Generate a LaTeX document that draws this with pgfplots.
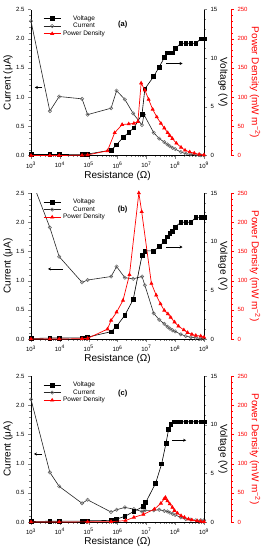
\documentclass[border=0pt]{standalone}
\usepackage{pgfplots}
\pgfplotsset{compat=1.18}
\usepackage{fontspec}
\setmainfont{Liberation Sans}
\usetikzlibrary{arrows.meta}

\tikzset{
 curplot/.style={black!85, line width=0.6pt, mark=o, mark size=1.7pt, mark options={draw=black!60, fill=white, line width=0.5pt}},
 volplot/.style={black, line width=0.6pt, mark=square*, mark size=1.9pt},
 powplot/.style={red, line width=0.7pt, mark=triangle*, mark size=1.7pt},
}
\pgfplotsset{width=173pt,height=146pt,scale only axis,xmin=1e3,xmax=1e9,
   tick align=outside, major tick length=3pt, minor tick length=1.6pt,
   ticklabel style={font=\fontsize{6}{7}\selectfont},
   label style={font=\fontsize{8}{9}\selectfont},
   /pgf/number format/assume math mode=true,
   xtick={1e3,1e4,1e5,1e6,1e7,1e8,1e9},
   minor xtick={2e3,3e3,4e3,5e3,6e3,7e3,8e3,9e3,2e4,3e4,4e4,5e4,6e4,7e4,8e4,9e4,2e5,3e5,4e5,5e5,6e5,7e5,8e5,9e5,2e6,3e6,4e6,5e6,6e6,7e6,8e6,9e6,2e7,3e7,4e7,5e7,6e7,7e7,8e7,9e7,2e8,3e8,4e8,5e8,6e8,7e8,8e8,9e8},
   xticklabels={10\textsuperscript{3},10\textsuperscript{4},10\textsuperscript{5},10\textsuperscript{6},10\textsuperscript{7},10\textsuperscript{8},10\textsuperscript{9}},
   legend style={draw=none, fill=none, at={(0.07,0.975)}, anchor=north west,
     font=\fontsize{6.5}{7}\selectfont, row sep=-2.5pt, inner sep=0pt},
}

\begin{document}
\begin{tikzpicture}
\path[use as bounding box] (0,0) rectangle (262pt,-550pt);

% ---------------- panel (a)
\begin{axis}[xmode=log, at={(31pt,-155.5pt)}, anchor=south west, clip=false,
   axis x line*=bottom, axis y line*=left, ymin=0, ymax=2.5,
   ytick={0,0.5,1,1.5,2,2.5}, minor y tick num=4,
   yticklabel style={/pgf/number format/fixed,/pgf/number format/fixed zerofill,/pgf/number format/precision=1},
   xlabel={Resistance (Ω)}, ylabel={Current (μA)},
   every axis x label/.style={at={([yshift=-20pt]rel axis cs:0.5,0)},anchor=center},
   every axis y label/.style={at={([xshift=-23pt]rel axis cs:0,0.5)},rotate=90,anchor=center}]
\addlegendimage{volplot}\addlegendentry{Voltage}
\addlegendimage{curplot}\addlegendentry{Current}
\addlegendimage{powplot}\addlegendentry{Power Density}
\addplot[curplot] coordinates {(1e3,2.30)(4.5e3,0.76)(9.5e3,1.01)(5.9e4,0.97)(9.2e4,0.70)(6.0e5,0.81)(9.3e5,1.11)(1.8e6,0.96)(3.5e6,0.72)(7.1e6,0.52)(8.3e6,0.70)(1.8e7,0.39)(2.8e7,0.29)(4.2e7,0.23)(5.4e7,0.19)(6.5e7,0.16)(8.1e7,0.13)(1e8,0.11)(1.57e8,0.06)(2.33e8,0.03)(3.5e8,0.02)(5.2e8,0.01)(7.7e8,0.005)(1e9,0.003)};
\node[font=\bfseries\fontsize{7.5}{8}\selectfont] at (rel axis cs:0.53,0.9) {(a)};
\draw[-{Stealth[length=3pt,width=3pt]}, line width=0.6pt] (rel axis cs:0.065,0.466) -- (rel axis cs:0.022,0.466);
\draw[-{Stealth[length=3pt,width=3pt]}, line width=0.6pt] (rel axis cs:0.782,0.63) -- (rel axis cs:0.876,0.63);
\end{axis}
\begin{axis}[xmode=log, at={(31pt,-155.5pt)}, anchor=south west, clip=false,
   axis x line=none, axis y line*=right, ymin=0, ymax=15, ytick={0,5,10,15}, minor y tick num=4,
   ylabel={Voltage (V)},
   every axis y label/.style={at={([xshift=19pt]rel axis cs:1,0.5)},rotate=-90,anchor=center}]
\addplot[volplot] coordinates {(1e3,0.1)(4.5e3,0.1)(9.5e3,0.1)(5.9e4,0.12)(9.2e4,0.15)(6.0e5,0.55)(9.3e5,1.1)(1.6e6,1.9)(2.45e6,2.35)(3.7e6,2.85)(7.1e6,4.25)(8.9e6,6.85)(1.78e7,8.1)(2.8e7,9.1)(4.2e7,10.05)(5.4e7,10.55)(6.5e7,10.55)(8.1e7,10.55)(1e8,11.0)(1.57e8,11.5)(2.33e8,11.5)(3.5e8,11.5)(5.2e8,11.5)(7.7e8,12.0)(1e9,12.0)};
\end{axis}
\begin{axis}[xmode=log, at={(31pt,-155.5pt)}, anchor=south west, clip=false,
   axis x line=none, axis y line*=right, ymin=0, ymax=250, ytick={0,50,100,150,200,250}, minor y tick num=4,
   y axis line style={red,xshift=27pt}, ytick style={red,xshift=27pt}, yticklabel style={red,xshift=27pt},
   ylabel={Power Density (mW m\textsuperscript{−2})},
   every axis y label/.style={at={([xshift=51pt]rel axis cs:1,0.5)},rotate=-90,anchor=center,red}]
\addplot[powplot] coordinates {(1e3,0)(4.5e3,0)(9.5e3,0)(5.9e4,0.5)(9.2e4,1)(4.5e5,8)(8e5,39)(1.45e6,53)(2.45e6,54)(3.7e6,55)(5.1e6,58)(6.6e6,124)(8.9e6,112)(1.2e7,96)(1.66e7,79)(2.3e7,66)(3.2e7,55)(4.2e7,47)(5.5e7,39)(6.5e7,34)(8e7,29)(1.1e8,21)(1.6e8,14)(2.2e8,9)(3.2e8,6)(4.6e8,4)(6.8e8,2)(1e9,1)};
\end{axis}

% ---------------- panel (b)
\begin{axis}[xmode=log, at={(31pt,-339pt)}, anchor=south west,
   axis x line*=bottom, axis y line*=left, ymin=0, ymax=2.5,
   ytick={0,0.5,1,1.5,2,2.5}, minor y tick num=4,
   yticklabel style={/pgf/number format/fixed,/pgf/number format/fixed zerofill,/pgf/number format/precision=1},
   xlabel={Resistance (Ω)}, ylabel={Current (μA)},
   every axis x label/.style={at={([yshift=-20pt]rel axis cs:0.5,0)},anchor=center},
   every axis y label/.style={at={([xshift=-23pt]rel axis cs:0,0.5)},rotate=90,anchor=center}]
\addlegendimage{volplot}\addlegendentry{Voltage}
\addlegendimage{curplot}\addlegendentry{Current}
\addlegendimage{powplot}\addlegendentry{Power Density}
\addplot[curplot] coordinates {(1e3,2.75)(4.5e3,1.91)(9.5e3,1.41)(5.9e4,0.97)(9.2e4,1.01)(6.0e5,1.07)(9.3e5,1.24)(1.8e6,1.05)(3.5e6,1.03)(7.1e6,1.07)(8.9e6,0.92)(1.8e7,0.44)(2.8e7,0.33)(4.2e7,0.26)(5.4e7,0.21)(6.5e7,0.18)(8.1e7,0.15)(1e8,0.13)(1.57e8,0.08)(2.33e8,0.05)(3.5e8,0.03)(5.2e8,0.02)(7.7e8,0.01)(1e9,0.005)};
\node[font=\bfseries\fontsize{7.5}{8}\selectfont] at (rel axis cs:0.53,0.89) {(b)};
\draw[-{Stealth[length=3pt,width=3pt]}, line width=0.6pt] (rel axis cs:0.184,0.48) -- (rel axis cs:0.098,0.48);
\draw[-{Stealth[length=3pt,width=3pt]}, line width=0.6pt] (rel axis cs:0.782,0.63) -- (rel axis cs:0.876,0.63);
\end{axis}
\begin{axis}[xmode=log, at={(31pt,-339pt)}, anchor=south west, clip=false,
   axis x line=none, axis y line*=right, ymin=0, ymax=15, ytick={0,5,10,15}, minor y tick num=4,
   ylabel={Voltage (V)},
   every axis y label/.style={at={([xshift=19pt]rel axis cs:1,0.5)},rotate=-90,anchor=center}]
\addplot[volplot] coordinates {(1e3,0.05)(4.5e3,0.1)(9.5e3,0.1)(5.9e4,0.12)(9.2e4,0.2)(6.0e5,0.75)(9.3e5,1.3)(1.8e6,2.45)(3.5e6,4.05)(7.1e6,8.6)(8.9e6,9.05)(1.8e7,9.05)(2.8e7,9.5)(4.2e7,10.0)(5.4e7,10.5)(6.5e7,10.85)(8.1e7,11.1)(1e8,11.5)(1.57e8,12.0)(2.33e8,12.0)(3.5e8,12.0)(5.2e8,12.5)(7.7e8,12.5)(1e9,12.5)};
\end{axis}
\begin{axis}[xmode=log, at={(31pt,-339pt)}, anchor=south west, clip=false,
   axis x line=none, axis y line*=right, ymin=0, ymax=250, ytick={0,50,100,150,200,250}, minor y tick num=4,
   y axis line style={red,xshift=27pt}, ytick style={red,xshift=27pt}, yticklabel style={red,xshift=27pt},
   ylabel={Power Density (mW m\textsuperscript{−2})},
   every axis y label/.style={at={([xshift=51pt]rel axis cs:1,0.5)},rotate=-90,anchor=center,red}]
\addplot[powplot] coordinates {(1e3,0)(4.5e3,0)(9.5e3,0)(5.9e4,0.5)(9.2e4,1)(4.5e5,17)(6.0e5,32)(9.3e5,46)(1.55e6,66)(2.6e6,110)(5.5e6,250)(6.9e6,218)(1.5e7,95)(2.2e7,75)(3.1e7,60)(4.2e7,49)(5.6e7,43)(7e7,37)(9.5e7,29)(1.3e8,22)(2e8,15.5)(2.7e8,11)(3.8e8,8)(5.2e8,6)(7.7e8,5)(1e9,3)};
\end{axis}

% ---------------- panel (c)
\begin{axis}[xmode=log, at={(31pt,-522pt)}, anchor=south west, clip=false,
   axis x line*=bottom, axis y line*=left, ymin=0, ymax=2.5,
   ytick={0,0.5,1,1.5,2,2.5}, minor y tick num=4,
   yticklabel style={/pgf/number format/fixed,/pgf/number format/fixed zerofill,/pgf/number format/precision=1},
   xlabel={Resistance (Ω)}, ylabel={Current (μA)},
   every axis x label/.style={at={([yshift=-20pt]rel axis cs:0.5,0)},anchor=center},
   every axis y label/.style={at={([xshift=-23pt]rel axis cs:0,0.5)},rotate=90,anchor=center}]
\addlegendimage{volplot}\addlegendentry{Voltage}
\addlegendimage{curplot}\addlegendentry{Current}
\addlegendimage{powplot}\addlegendentry{Power Density}
\addplot[curplot] coordinates {(1e3,2.10)(4.5e3,0.85)(9.5e3,0.61)(5.9e4,0.32)(9.2e4,0.38)(6.0e5,0.17)(9.3e5,0.21)(1.8e6,0.25)(3.7e6,0.22)(7.1e6,0.18)(8.9e6,0.20)(1.8e7,0.20)(2.8e7,0.21)(4.2e7,0.19)(5.4e7,0.18)(6.5e7,0.16)(8.1e7,0.14)(1e8,0.12)(1.57e8,0.08)(2.33e8,0.05)(3.5e8,0.04)(5.2e8,0.03)(7.7e8,0.03)(1e9,0.03)};
\node[font=\bfseries\fontsize{7.5}{8}\selectfont] at (rel axis cs:0.53,0.877) {(c)};
\draw[-{Stealth[length=3pt,width=3pt]}, line width=0.6pt] (rel axis cs:0.065,0.466) -- (rel axis cs:0.017,0.466);
\draw[-{Stealth[length=3pt,width=3pt]}, line width=0.6pt] (rel axis cs:0.816,0.56) -- (rel axis cs:0.897,0.56);
\end{axis}
\begin{axis}[xmode=log, at={(31pt,-522pt)}, anchor=south west, clip=false,
   axis x line=none, axis y line*=right, ymin=0, ymax=15, ytick={0,5,10,15}, minor y tick num=4,
   ylabel={Voltage (V)},
   every axis y label/.style={at={([xshift=19pt]rel axis cs:1,0.5)},rotate=-90,anchor=center}]
\addplot[volplot] coordinates {(1e3,0.05)(4.5e3,0.08)(9.5e3,0.08)(5.9e4,0.1)(9.2e4,0.12)(6.0e5,0.17)(9.3e5,0.3)(1.8e6,0.58)(3.7e6,1.09)(7.9e6,1.6)(9.5e6,2.0)(2.1e7,3.99)(3.4e7,5.97)(4.8e7,8.08)(5.9e7,9.5)(7e7,10.0)(8.9e7,10.3)(1.2e8,10.3)(1.57e8,10.3)(2.33e8,10.3)(3.5e8,10.3)(5.2e8,10.3)(7.7e8,10.3)(1e9,10.3)};
\end{axis}
\begin{axis}[xmode=log, at={(31pt,-522pt)}, anchor=south west, clip=false,
   axis x line=none, axis y line*=right, ymin=0, ymax=250, ytick={0,50,100,150,200,250}, minor y tick num=4,
   y axis line style={red,xshift=27pt}, ytick style={red,xshift=27pt}, yticklabel style={red,xshift=27pt},
   ylabel={Power Density (mW m\textsuperscript{−2})},
   every axis y label/.style={at={([xshift=51pt]rel axis cs:1,0.5)},rotate=-90,anchor=center,red}]
\addplot[powplot] coordinates {(1e3,0)(9.5e3,0)(9.2e4,0.3)(6e5,0.5)(1.9e6,2.5)(3.7e6,8)(7.9e6,13)(1.9e7,22)(3.2e7,32)(4.2e7,40)(4.6e7,42)(5.4e7,36)(6.5e7,31)(8e7,25)(9.5e7,19.6)(1.2e8,15)(1.6e8,10.8)(2.1e8,8)(2.9e8,5)(3.8e8,3.5)(5.8e8,2)(7.7e8,1)(1e9,0.5)};
\end{axis}
\end{tikzpicture}
\end{document}
